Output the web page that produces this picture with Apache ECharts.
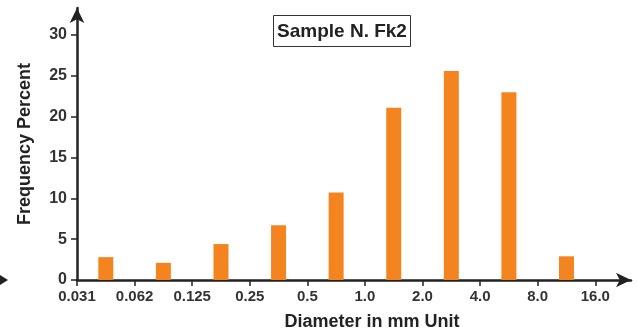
<!DOCTYPE html>
<html><head><meta charset="utf-8">
<script src="https://cdn.jsdelivr.net/npm/echarts@6/dist/echarts.min.js"></script>
<style>html,body{margin:0;padding:0;background:#fff}#c{width:637px;height:336px}</style>
</head><body><div id="c"></div>
<script>
const tickLabels = ['0.031','0.062','0.125','0.25','0.5','1.0','2.0','4.0','8.0','16.0'];
const binNames = ['0.031-0.062','0.062-0.125','0.125-0.25','0.25-0.5','0.5-1.0','1.0-2.0','2.0-4.0','4.0-8.0','8.0-16.0'];
const frequency = [2.8, 2.1, 4.4, 6.7, 10.7, 21.1, 25.6, 23.0, 2.9];
const yTicks = [0,5,10,15,20,25,30];

const chart = echarts.init(document.getElementById('c'));
const font = '"Liberation Sans", Arial, sans-serif';
chart.setOption({
  animation:false,
  title:{text:'Sample N. Fk2', left:338, textAlign:'center', top:15,
    borderColor:'#333', borderWidth:1, padding:[7,4,6,4],
    textStyle:{fontFamily:font, fontWeight:'bold', fontSize:19, color:'#222'}},
  grid:{left:77, right:6, top:8, bottom:55},
  xAxis:{type:'value', min:0, max:9.62, interval:1,
    name:'Diameter in mm Unit', nameLocation:'middle', nameGap:33,
    nameTextStyle:{fontFamily:font, fontWeight:'bold', fontSize:18, color:'#222', padding:[0,0,0,36]},
    axisLine:{lineStyle:{color:'#222', width:2.5}, symbol:['none','arrow'], symbolSize:[11,15]},
    axisTick:{length:6, lineStyle:{color:'#222', width:1.5}},
    splitLine:{show:false},
    axisLabel:{showMaxLabel:false, margin:9, fontFamily:font, fontWeight:'bold', fontSize:15, color:'#333',
      formatter:v=>{const i=Math.round(v); return Math.abs(v-i)<1e-6 && tickLabels[i]!==undefined ? tickLabels[i] : '';}}
  },
  yAxis:{type:'value', min:0, max:33.3, interval:5,
    name:'Frequency Percent', nameLocation:'middle', nameGap:43,
    nameTextStyle:{fontFamily:font, fontWeight:'bold', fontSize:18, color:'#222'},
    axisLine:{show:true, lineStyle:{color:'#222', width:2.5}, symbol:['none','arrow'], symbolSize:[11,15]},
    axisTick:{show:true, length:6, lineStyle:{color:'#222', width:1.5}},
    splitLine:{show:false},
    axisLabel:{showMaxLabel:false, margin:10, fontFamily:font, fontWeight:'bold', fontSize:16, color:'#333',
      formatter:v=> yTicks.includes(v) ? String(v) : ''}
  },
  series:[{type:'bar', barWidth:15,
    data: frequency.map((f,i)=>({name:binNames[i], value:[i+0.5, f]})),
    itemStyle:{color:'#F4841F'}}],
  graphic:[{type:'polygon', left:0, top:275, shape:{points:[[0,0],[8,5],[0,10]]}, style:{fill:'#222'}}]
});
</script></body></html>
